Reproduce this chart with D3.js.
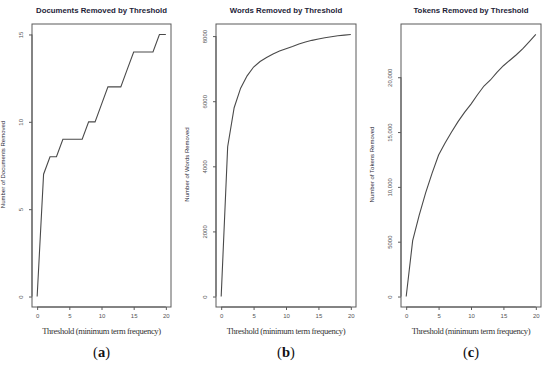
<!DOCTYPE html>
<html><head><meta charset="utf-8">
<script src="https://cdn.jsdelivr.net/npm/d3@7"></script>
<style>body{margin:0;background:#fff}</style>
</head><body><svg id="c" width="550" height="365"></svg>
<script>
const thresholds = d3.range(0, 21);
const docsRemoved = [0,7,8,8,9,9,9,9,10,10,11,12,12,12,13,14,14,14,14,15,15];
const wordsRemoved = [0,4600,5800,6400,6780,7050,7220,7340,7450,7540,7610,7680,7760,7820,7870,7910,7950,7980,8010,8030,8050];
const tokensRemoved = [0,5100,7400,9450,11250,12900,14000,15000,15950,16800,17550,18400,19200,19750,20450,21050,21550,22050,22600,23250,23900];
const xTicks = [0,5,10,15,20];
const docTicks = [0,5,10,15], docTickLabels = ["0","5","10","15"];
const wordTicks = [0,2000,4000,6000,8000], wordTickLabels = ["0","2000","4000","6000","8000"];
const tokTicks = [0,5000,10000,15000,20000], tokTickLabels = ["0","5000","10,000","15,000","20,000"];
const titles = ["Documents Removed by Threshold","Words Removed by Threshold","Tokens Removed by Threshold"];
const yTitles = ["Number of Documents Removed","Number of Words Removed","Number of Tokens Removed"];
const xTitle = "Threshold (minimum term frequency)";
const panelLabels = ["a","b","c"];

const svg = d3.select("#c");
const panels = [
  {left:32, right:171, data:docsRemoved, ticks:docTicks, labels:docTickLabels},
  {left:216, right:356, data:wordsRemoved, ticks:wordTicks, labels:wordTickLabels},
  {left:401, right:541, data:tokensRemoved, ticks:tokTicks, labels:tokTickLabels}
];
const plotTop = 24, plotBottom = 307;
panels.forEach((p, i) => {
  const g = svg.append("g");
  const ymax = d3.max(p.data), pad = ymax*0.04;
  const x = d3.scaleLinear().domain([-0.8, 20.8]).range([p.left, p.right]);
  const y = d3.scaleLinear().domain([-pad, ymax+pad]).range([plotBottom, plotTop]);
  g.append("rect").attr("x", p.left).attr("y", plotTop).attr("width", p.right-p.left).attr("height", plotBottom-plotTop)
    .attr("fill","none").attr("stroke","#5a5a5a").attr("stroke-width",1);
  const xa = g.append("g").attr("transform",`translate(0,${plotBottom})`)
    .call(d3.axisBottom(x).tickValues(xTicks).tickSize(3).tickSizeOuter(0));
  xa.select(".domain").attr("stroke","#5a5a5a").attr("d",`M${x(0)},0H${x(20)}`);
  xa.selectAll(".tick line").attr("stroke","#5a5a5a");
  xa.selectAll("text").attr("font-family","Liberation Sans, Arial").attr("font-size",6).attr("fill","#555").attr("dy","0.95em").attr("y",5);
  const ya = g.append("g").attr("transform",`translate(${p.left},0)`)
    .call(d3.axisLeft(y).tickValues(p.ticks).tickFormat((d,k)=>p.labels[k]).tickSize(3).tickSizeOuter(0));
  ya.select(".domain").attr("stroke","#5a5a5a").attr("d",`M0,${y(p.ticks[0])}V${y(p.ticks[p.ticks.length-1])}`);
  ya.selectAll(".tick line").attr("stroke","#5a5a5a");
  ya.selectAll("text").attr("font-family","Liberation Sans, Arial").attr("font-size",6).attr("fill","#555")
    .attr("x",0).attr("dy",0).attr("text-anchor","middle")
    .attr("transform","translate(-9,0) rotate(-90)");
  const line = d3.line().x((d,k)=>x(thresholds[k])).y(d=>y(d));
  g.append("path").datum(p.data).attr("d",line).attr("fill","none").attr("stroke","#4a4a4a").attr("stroke-width",1.1);
  const cx = (p.left+p.right)/2;
  g.append("text").attr("x",cx).attr("y",13).attr("text-anchor","middle")
    .attr("font-family","Liberation Sans, Arial").attr("font-weight","bold").attr("font-size",7.8).attr("fill","#1e1e38").text(titles[i]);
  g.append("text").attr("transform",`translate(${p.left-27},${(plotTop+plotBottom)/2-1}) rotate(-90)`).attr("text-anchor","middle")
    .attr("font-family","Liberation Sans, Arial").attr("font-size",6).attr("fill","#2a2a3a").text(yTitles[i]);
  g.append("text").attr("x",cx).attr("y",334).attr("text-anchor","middle")
    .attr("font-family","Liberation Serif, Times New Roman").attr("font-size",8.6).attr("letter-spacing",-0.35).attr("fill","#333").text(xTitle);
  const pl = g.append("text").attr("x",cx).attr("y",357).attr("text-anchor","middle")
    .attr("font-family","Liberation Serif, Times New Roman").attr("font-size",14.5).attr("fill","#111");
  pl.append("tspan").text("(");
  pl.append("tspan").attr("font-weight","bold").text(panelLabels[i]);
  pl.append("tspan").text(")");
});
</script></body></html>
